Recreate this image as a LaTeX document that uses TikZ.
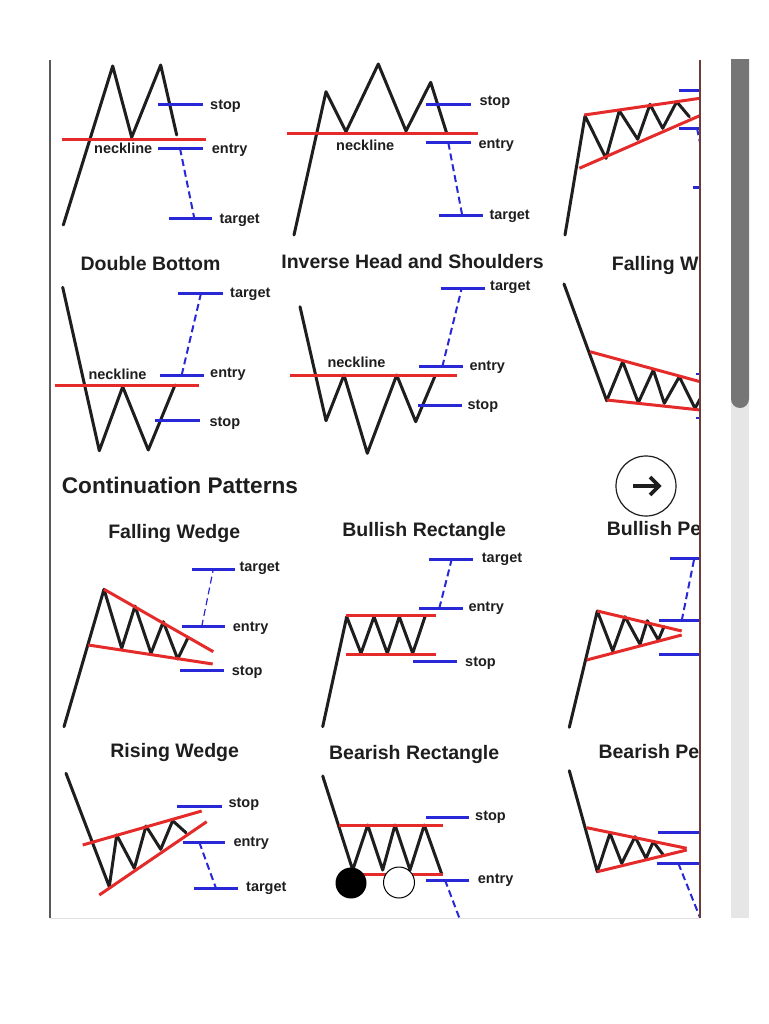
\documentclass[tikz,border=0pt]{standalone}
\usepackage{fontspec}
\setmainfont{Liberation Sans}

\definecolor{ink}{HTML}{1E1E1E}
\definecolor{neckred}{HTML}{E52A2A}
\definecolor{lvlblue}{HTML}{2828D6}
\definecolor{rail}{HTML}{5A5A5A}
\definecolor{edgebrown}{HTML}{6E3B3B}
\definecolor{track}{HTML}{E6E6E6}
\definecolor{thumb}{HTML}{767676}

\begin{document}
\begin{tikzpicture}[
    x=1pt, y=-1pt,
    px/.style={line width=3pt, ink, line join=round, line cap=round},
    nl/.style={line width=3pt, neckred},
    lv/.style={line width=3pt, lvlblue},
    proj/.style={line width=2pt, lvlblue, dash pattern=on 7pt off 4pt},
    lbl/.style={anchor=base west, inner sep=0pt, text=ink, font=\bfseries\fontsize{14.5}{17}\selectfont},
    ttl/.style={anchor=base, inner sep=0pt, text=ink, font=\bfseries\fontsize{19.5}{23}\selectfont}
]

% ---- Page ----
\fill[white] (0,0) rectangle (768,1024);
\useasboundingbox (0,0) rectangle (768,1024);

\begin{scope}
\clip (51,60) rectangle (699.5,917.5);

% ---- Double top ----
\draw[px] (63.3,225) -- (112.7,66) -- (131.7,137.3) -- (160.7,65) -- (176.7,135);
\draw[nl] (61.7,139.3) -- (205.7,139.3);
\draw[lv] (158.3,105) -- (203.3,105);
\draw[lv] (158.3,148.3) -- (203.3,148.3);
\draw[lv] (169.3,218.3) -- (211.7,218.3);
\draw[proj] (180,148.3) -- (194.3,218.3);
\node[lbl] (dtStop) at (210,110) {stop};
\node[lbl] (dtEntry) at (211.7,154) {entry};
\node[lbl] (dtNeck) at (94,154) {neckline};
\node[lbl] (dtTarget) at (219.3,223.3) {target};

% ---- Head and shoulders ----
\draw[px] (294,235) -- (326,91.7) -- (346,131.7) -- (378.3,64) -- (406,131) -- (430.7,82.3) -- (446.7,133.3);
\draw[nl] (286.7,134) -- (478.3,134);
\draw[lv] (426,104.3) -- (471,104.3);
\draw[lv] (426,142.7) -- (471,142.7);
\draw[lv] (439.3,215.7) -- (483.3,215.7);
\draw[proj] (448.3,142.7) -- (462.3,215.7);
\node[lbl] (hsStop) at (479.3,106) {stop};
\node[lbl] (hsEntry) at (478.3,148.3) {entry};
\node[lbl] (hsNeck) at (336,150.7) {neckline};
\node[lbl] (hsTarget) at (489.3,220) {target};

% ---- Rising wedge (cut off) ----
\draw[px] (565,235) -- (585,116) -- (606,158.3) -- (619.3,110.7) -- (637.7,139.3) -- (650,104.3) -- (662.7,128.3) -- (676.7,101.7) -- (689.3,116.7);
\draw[nl] (584.3,115) -- (702,98);
\draw[nl] (579.3,168.3) -- (702,114.7);
\draw[lv] (679.3,90.7) -- (702,90.7);
\draw[lv] (679.3,128.3) -- (702,128.3);
\draw[lv] (692.7,187.3) -- (702,187.3);
\draw[proj] (697,128.3) -- (700.5,145);

% ---- Double bottom ----
\node[ttl] (ttlDB) at (150.5,270.5) {Double Bottom};
\draw[px] (62.7,287.3) -- (99.3,450.7) -- (122.7,386.7) -- (148.3,450) -- (175,385);
\draw[nl] (55,385) -- (199,385);
\draw[lv] (160,375) -- (204,375);
\draw[lv] (155,420.7) -- (200,420.7);
\draw[lv] (177.7,293.3) -- (222.7,293.3);
\draw[proj] (181.7,375) -- (201,293.3);
\node[lbl] (dbTarget) at (230,297.7) {target};
\node[lbl] (dbEntry) at (210,377.7) {entry};
\node[lbl] (dbNeck) at (88.3,379.3) {neckline};
\node[lbl] (dbStop) at (209.3,426.7) {stop};

% ---- Inverse head and shoulders ----
\node[ttl] (ttlIHS) at (412.5,268.5) {Inverse Head and Shoulders};
\draw[px] (300,306.7) -- (326,420.7) -- (344,375) -- (367.3,453.3) -- (396.7,375) -- (415.7,421.7) -- (435,376);
\draw[nl] (290,375) -- (456.7,375);
\draw[lv] (419.3,366.7) -- (462.7,366.7);
\draw[lv] (418.3,405) -- (461.7,405);
\draw[lv] (440.7,288.3) -- (485,288.3);
\draw[proj] (442.3,366.7) -- (461.7,288.3);
\node[lbl] (ihsTarget) at (490,290.7) {target};
\node[lbl] (ihsNeck) at (327.3,367.3) {neckline};
\node[lbl] (ihsEntry) at (469.3,370.7) {entry};
\node[lbl] (ihsStop) at (467.3,409.3) {stop};

% ---- Falling wedge (cut off) ----
\node[ttl, anchor=base west] (ttlFWr) at (611.7,270) {Falling W};
\draw[px] (564,284) -- (606.7,400.7) -- (622.7,361.7) -- (638.3,402.7) -- (653.3,370) -- (664.3,403.3) -- (679.3,376.7) -- (695,408.3) -- (705,390);
\draw[nl] (590,351.7) -- (702,382.2);
\draw[nl] (606.7,400) -- (702,410.2);
\draw[lv, line width=2pt] (696,374) -- (702,374);
\draw[lv, line width=2pt] (696,418.3) -- (702,418.3);

% ---- Continuation patterns ----
\node[anchor=base west, inner sep=0pt, text=ink, font=\bfseries\fontsize{22.6}{26}\selectfont] (contHead) at (61.7,493.3) {Continuation Patterns};

% ---- Falling wedge ----
\node[ttl] (ttlFW) at (174.2,538) {Falling Wedge};
\draw[px] (64,726.7) -- (104,589.3) -- (121.7,648.3) -- (135,606) -- (151,653.3) -- (163.3,621.7) -- (177.7,659) -- (187.7,638.3);
\draw[nl] (104,589.3) -- (213.3,651.7);
\draw[nl] (88.3,645) -- (212.7,664);
\draw[lv] (191.7,569.3) -- (235,569.3);
\draw[lv] (181.7,626.7) -- (225,626.7);
\draw[lv] (180,670.7) -- (224,670.7);
\draw[proj, line width=1.2pt] (201.7,626.7) -- (213.3,569.3);
\node[lbl] (fwTarget) at (239.3,571.7) {target};
\node[lbl] (fwEntry) at (232.7,631.7) {entry};
\node[lbl] (fwStop) at (231.7,675) {stop};

% ---- Bullish rectangle ----
\node[ttl] (ttlBR) at (424.2,536.7) {Bullish Rectangle};
\draw[px] (322.7,726.7) -- (346.7,616.7) -- (361,653.3) -- (374,616.7) -- (387.3,653.3) -- (399.3,616.7) -- (412.7,653.3) -- (425,616.7);
\draw[nl] (346,615.7) -- (436,615.7);
\draw[nl] (346,654.3) -- (436,654.3);
\draw[lv] (429.3,559.3) -- (472.7,559.3);
\draw[lv] (419.3,608.3) -- (462.7,608.3);
\draw[lv] (413.3,661.7) -- (456.7,661.7);
\draw[proj] (439.3,608.3) -- (451.7,559.3);
\node[lbl] (brTarget) at (481.7,562.7) {target};
\node[lbl] (brEntry) at (468.3,611.7) {entry};
\node[lbl] (brStop) at (465,666) {stop};

% ---- Bullish pennant (cut off) ----
\node[ttl, anchor=base west] (ttlBP) at (606.7,535) {Bullish Pe};
\draw[px] (569.3,727.3) -- (597.3,611) -- (612.7,651) -- (625,616.7) -- (640,644.3) -- (647.3,620.7) -- (658.3,640) -- (664,626.7);
\draw[nl] (597.3,611) -- (681.7,631);
\draw[nl] (586.7,660) -- (681.7,635);
\draw[lv] (670,558.3) -- (702,558.3);
\draw[lv] (659.3,620.7) -- (702,620.7);
\draw[lv] (659.3,654) -- (702,654);
\draw[proj] (681.7,620.7) -- (694.3,558.3);

% ---- Rising wedge ----
\node[ttl] (ttlRW) at (174.7,757.3) {Rising Wedge};
\draw[px] (66,773.3) -- (109.3,886.7) -- (116.7,835) -- (134.3,868.3) -- (146,826) -- (160.7,849.3) -- (172.7,820.7) -- (186,832.7);
\draw[nl] (82.7,845) -- (201.7,811);
\draw[nl] (99.3,895) -- (206.7,821.7);
\draw[lv] (176.7,806.7) -- (221.7,806.7);
\draw[lv] (182.7,842.3) -- (225,842.3);
\draw[lv] (194.3,888.3) -- (238.3,888.3);
\draw[proj] (199.3,842.3) -- (216,888.3);
\node[lbl] (rwStop) at (228.3,807.3) {stop};
\node[lbl] (rwEntry) at (233.3,846) {entry};
\node[lbl] (rwTarget) at (246,891.7) {target};

% ---- Bearish rectangle ----
\node[ttl] (ttlBeR) at (414.2,759.3) {Bearish Rectangle};
\draw[px] (322.7,776) -- (352.7,870) -- (367.7,825) -- (382.7,870) -- (395,825) -- (410,870) -- (424.3,825) -- (441.7,874);
\draw[nl] (339.3,825) -- (442.7,825);
\draw[nl] (350,874) -- (442.7,874);
\draw[lv] (426,817.3) -- (469.3,817.3);
\draw[lv] (426,880) -- (469.3,880);
\draw[proj] (445,880) -- (462,925);
\node[lbl] (beStop) at (475,820) {stop};
\node[lbl] (beEntry) at (477.7,883.3) {entry};

% ---- Bearish pennant (cut off) ----
\node[ttl, anchor=base west] (ttlBeP) at (598.3,758.3) {Bearish Pe};
\draw[px] (569.3,770.7) -- (597.3,871.7) -- (610,833.3) -- (621.7,863.3) -- (635,836.7) -- (646,858.3) -- (653.3,841.7) -- (663.3,855);
\draw[nl] (586.7,827.7) -- (686.7,848.3);
\draw[nl] (597.3,871.7) -- (686.7,850);
\draw[lv] (658.3,832.7) -- (702,832.7);
\draw[lv] (656.7,863.3) -- (702,863.3);
\draw[proj] (678.3,863.3) -- (705,930);

% ---- Carousel controls ----
\node[circle, draw=ink, line width=1.2pt, fill=white, minimum size=60pt, inner sep=0pt] (nextBtn) at (646,486) {};
\draw[line width=3.6pt, ink] (633,486) -- (657,486);
\draw[line width=3.6pt, ink, line join=miter] (650,477) -- (659,486) -- (650,495);
\node[circle, fill=black, minimum size=31pt, inner sep=0pt] (dotOn) at (351,883) {};
\node[circle, draw=black, fill=white, line width=1pt, minimum size=31pt, inner sep=0pt] (dotOff) at (399,882.5) {};
\end{scope}

% ---- Frame and scrollbar ----
\draw[rail, line width=2pt] (50,60) -- (50,918);
\draw[edgebrown, line width=1.5pt] (700,60) -- (700,918);
\draw[black!12, line width=1pt] (50,918) -- (700,918);
\fill[track] (731,60) rectangle (749,918);
\begin{scope}
\clip (731,60) rectangle (749,918);
\fill[thumb, rounded corners=9pt] (731,40) rectangle (749,408);
\end{scope}

\end{tikzpicture}
\end{document}
